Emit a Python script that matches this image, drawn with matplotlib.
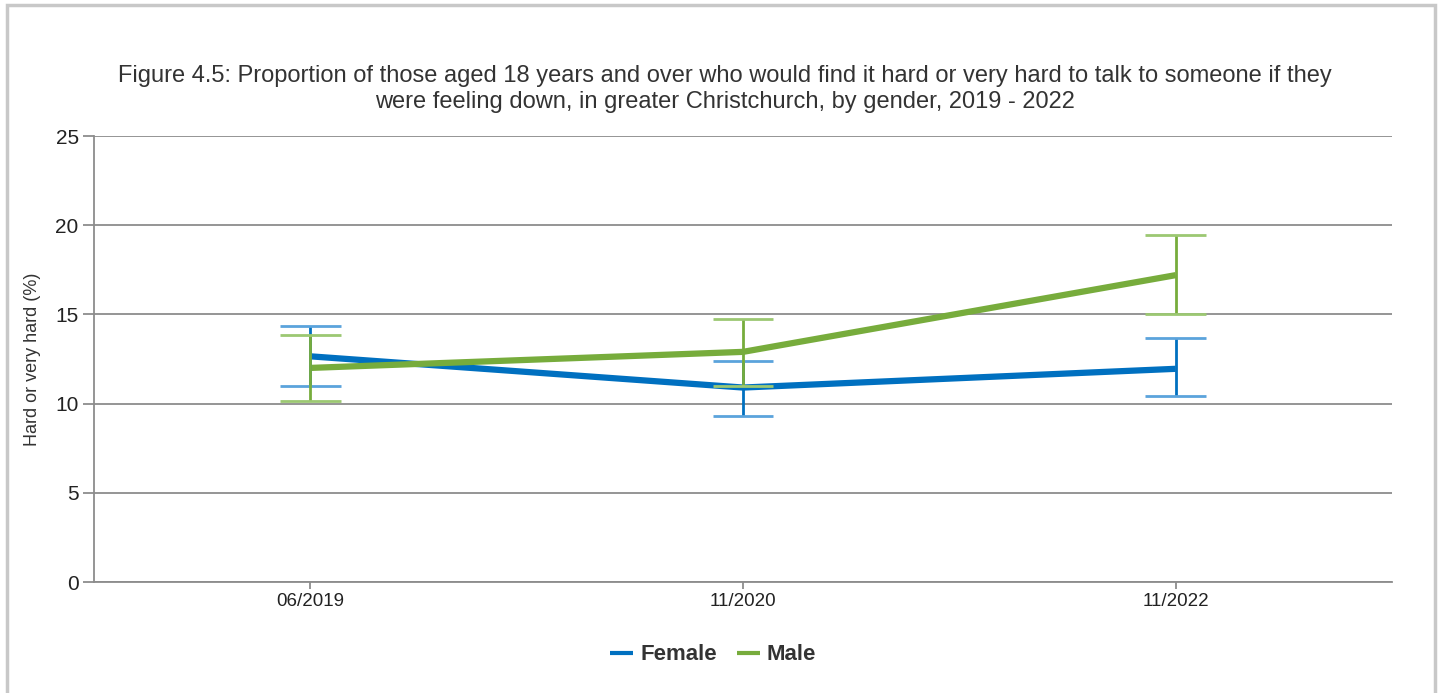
import numpy as np
import matplotlib.pyplot as plt
from matplotlib.patches import Rectangle

# Dados
periodos = ["06/2019", "11/2020", "11/2022"]
feminino = [12.65, 10.9, 11.95]
feminino_inf = [11.0, 9.3, 10.45]
feminino_sup = [14.35, 12.4, 13.65]
masculino = [12.0, 12.9, 17.2]
masculino_inf = [10.15, 11.0, 15.05]
masculino_sup = [13.85, 14.75, 19.45]

titulo = ("Figure 4.5: Proportion of those aged 18 years and over who would find it hard or very hard to talk to someone if they\n"
          "were feeling down, in greater Christchurch, by gender, 2019 - 2022")

plt.rcParams['font.family'] = ['Liberation Sans', 'DejaVu Sans']

azul = '#0070C0'
verde = '#77AC3C'
azul_claro = '#5BA3DC'
verde_claro = '#9CC872'
texto = '#333333'

fig = plt.figure(figsize=(14.42, 6.93), dpi=100, facecolor='white')
ax = fig.add_axes([94 / 1442, 1 - 582 / 693, 1298 / 1442, 446 / 693])

# Moldura cinza em volta da figura
fig.patches.append(Rectangle((7 / 1442, -0.05), 1428 / 1442, 1 - 5 / 693 + 0.05,
                             transform=fig.transFigure, fill=False,
                             edgecolor='#C8C8C8', linewidth=2.5))

x = np.arange(len(periodos))

def desenha(valores, inf, sup, cor, cor_cap, rotulo):
    ax.plot(x, valores, color=cor, linewidth=4.5, label=rotulo, zorder=3,
            solid_capstyle='butt')
    for xi, lo, hi in zip(x, inf, sup):
        ax.vlines(xi, lo, hi, color=cor, linewidth=2, zorder=4)
        ax.hlines([lo, hi], xi - 0.07, xi + 0.07, color=cor_cap, linewidth=2, zorder=4)

desenha(feminino, feminino_inf, feminino_sup, azul, azul_claro, "Female")
desenha(masculino, masculino_inf, masculino_sup, verde, verde_claro, "Male")

ax.set_xlim(-0.5, len(periodos) - 0.5)
ax.set_ylim(0, 25)
ax.set_yticks(np.arange(0, 26, 5))
ax.set_xticks(x)
ax.set_xticklabels(periodos)
ax.yaxis.grid(True, color='#8C8C8C', linewidth=1.3)
ax.set_axisbelow(True)

for lado in ['top', 'right']:
    ax.spines[lado].set_visible(False)
ax.spines['left'].set_color('#8C8C8C')
ax.spines['bottom'].set_color('#8C8C8C')
ax.spines['left'].set_linewidth(1.3)
ax.spines['bottom'].set_linewidth(1.3)

ax.tick_params(axis='y', length=8, width=1.3, color='#8C8C8C', labelsize=15,
               labelcolor='#222222', pad=3)
ax.tick_params(axis='x', length=5, width=1.3, color='#8C8C8C', labelsize=13.5,
               labelcolor='#222222', pad=3)

ax.set_ylabel("Hard or very hard (%)", fontsize=13, color=texto, labelpad=10)

fig.text(725 / 1442, 1 - 89 / 693, titulo, ha='center', va='center',
         fontsize=17, color=texto, linespacing=1.25)

leg = ax.legend(loc='upper center', bbox_to_anchor=(0.5 - 30 / 1298, -0.095), ncol=2,
                frameon=False, handlelength=1.05, handletextpad=0.3,
                columnspacing=0.9, prop={'weight': 'bold', 'size': 16})
for linha in leg.get_lines():
    linha.set_linewidth(3)
for t in leg.get_texts():
    t.set_color('#333333')

fig.savefig("out.png", dpi=100, facecolor='white')
